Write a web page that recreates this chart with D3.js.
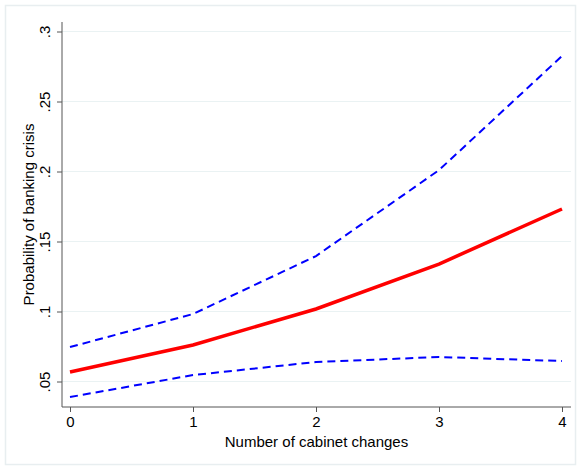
<!DOCTYPE html>
<html>
<head>
<meta charset="utf-8">
<script src="https://cdn.jsdelivr.net/npm/d3@7"></script>
<style>
  body { margin: 0; background: #fff; }
  text { font-family: "Liberation Sans", Arial, sans-serif; fill: #000; }
</style>
</head>
<body>
<div id="chart"></div>
<script>
const cabinetChanges = [0, 1, 2, 3, 4];
const probability = [0.0568, 0.0761, 0.1018, 0.1339, 0.1732];
const upperBound = [0.0746, 0.0982, 0.1396, 0.2010, 0.2825];
const lowerBound = [0.0389, 0.0546, 0.0639, 0.0675, 0.0646];
const yTicks = [0.05, 0.1, 0.15, 0.2, 0.25, 0.3];
const yTickLabels = ['.05', '.1', '.15', '.2', '.25', '.3'];

const width = 581;
const height = 470;

const svg = d3.select('#chart')
  .append('svg')
  .attr('width', width)
  .attr('height', height);

// outer frame
svg.append('rect')
  .attr('x', 5.5).attr('y', 5.5)
  .attr('width', width - 11).attr('height', height - 11)
  .attr('fill', 'none')
  .attr('stroke', '#e8eef0')
  .attr('stroke-width', 1.5);

const x = d3.scaleLinear().domain([0, 4]).range([70, 562]);
const y = d3.scaleLinear().domain([0.05, 0.3]).range([381.5, 31.5]);

const plotLeft = 62, plotRight = 571, plotTop = 22, plotBottom = 407;

// gridlines
svg.append('g')
  .selectAll('line')
  .data(yTicks)
  .join('line')
  .attr('x1', plotLeft).attr('x2', plotRight)
  .attr('y1', d => y(d)).attr('y2', d => y(d))
  .attr('stroke', '#eaf2f3')
  .attr('stroke-width', 1.2);

// y axis
const yAxis = svg.append('g')
  .attr('transform', `translate(${plotLeft},0)`)
  .call(d3.axisLeft(y).tickValues(yTicks).tickFormat((d, i) => yTickLabels[i]).tickSize(5).tickSizeOuter(0));
yAxis.select('.domain').attr('d', `M0,${plotTop}V${plotBottom}`).attr('stroke', '#555');
yAxis.selectAll('.tick line').attr('stroke', '#555');
yAxis.selectAll('.tick text')
  .attr('font-size', 15)
  .attr('text-anchor', 'middle')
  .attr('transform', 'rotate(-90)')
  .attr('x', 0)
  .attr('dy', 0)
  .attr('y', -12);

// x axis
const xAxis = svg.append('g')
  .attr('transform', `translate(0,${plotBottom})`)
  .call(d3.axisBottom(x).tickValues(cabinetChanges).tickFormat(d3.format('d')).tickSize(5).tickSizeOuter(0));
xAxis.select('.domain').attr('d', `M${plotLeft},0H${plotRight}`).attr('stroke', '#555');
xAxis.selectAll('.tick line').attr('stroke', '#555');
xAxis.selectAll('.tick text').attr('font-size', 15).attr('y', 9);

// axis titles
svg.append('text')
  .attr('x', (plotLeft + plotRight) / 2)
  .attr('y', 447)
  .attr('text-anchor', 'middle')
  .attr('font-size', 15)
  .text('Number of cabinet changes');

svg.append('text')
  .attr('transform', `translate(34,${(plotTop + plotBottom) / 2}) rotate(-90)`)
  .attr('text-anchor', 'middle')
  .attr('font-size', 15)
  .text('Probability of banking crisis');

const line = vals => d3.line()
  .x((d, i) => x(cabinetChanges[i]))
  .y(d => y(d))(vals);

svg.append('path')
  .attr('d', line(upperBound))
  .attr('fill', 'none')
  .attr('stroke', '#0000ff')
  .attr('stroke-width', 2)
  .attr('stroke-dasharray', '8,5');

svg.append('path')
  .attr('d', line(lowerBound))
  .attr('fill', 'none')
  .attr('stroke', '#0000ff')
  .attr('stroke-width', 2)
  .attr('stroke-dasharray', '8,5');

svg.append('path')
  .attr('d', line(probability))
  .attr('fill', 'none')
  .attr('stroke', '#ff0000')
  .attr('stroke-width', 3.5);
</script>
</body>
</html>
